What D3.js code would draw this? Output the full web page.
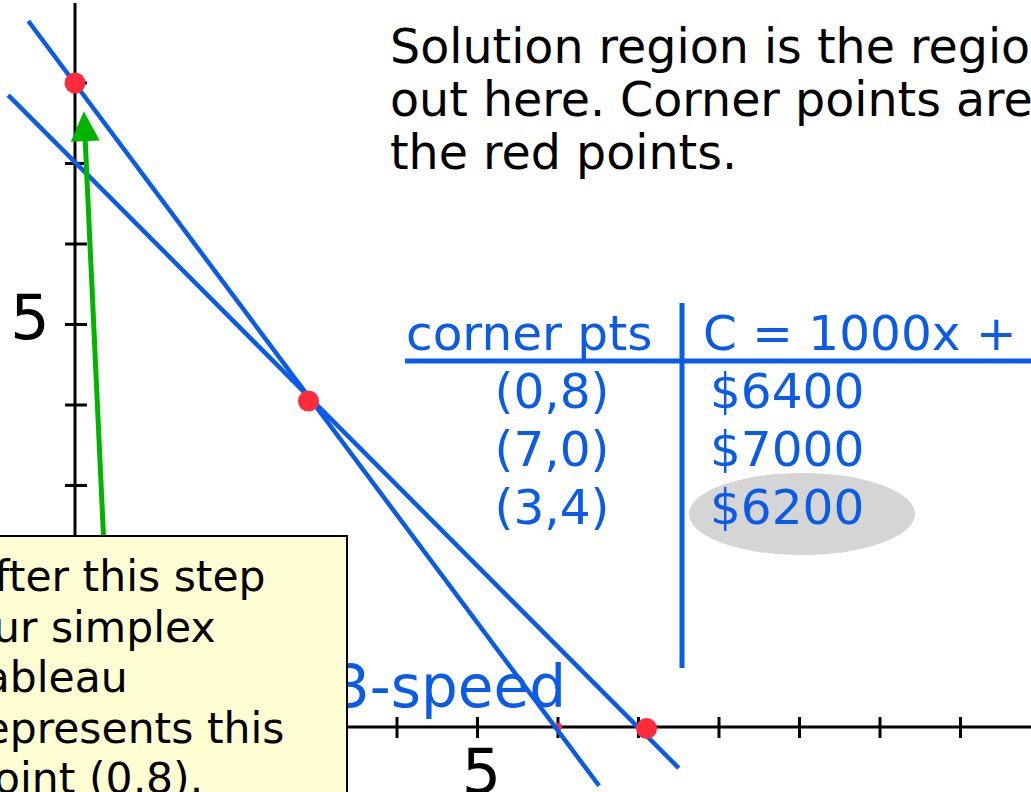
<!DOCTYPE html>
<html>
<head>
<meta charset="utf-8">
<script src="https://cdn.jsdelivr.net/npm/d3@7"></script>
<style>
  body { margin: 0; background: #fff; overflow: hidden; }
  svg { display: block; font-family: "DejaVu Sans", Verdana, sans-serif; }
</style>
</head>
<body>
<div id="chart"></div>
<script>
// Data
const xTicks = [1, 2, 3, 4, 5, 6, 7, 8, 9, 10, 11];
const yTicks = [1, 2, 3, 4, 5, 6, 7, 8];
const tickLabels = [5];

// constraint lines as [x1, y1, x2, y2] in data units
const constraintLines = [
    [-0.58, 8.77, 6.51, -0.73],   // 4x + 3y = 24
    [-0.83, 7.85, 7.50, -0.51]    // x + y = 7
];
// red corner points, as placed in the picture
const cornerPoints = [[0, 8], [2.9, 4.05], [7.1, -0.02]];
const minorPoints = [[6, 0]];
const arrowFrom = [0.38, 1.8];
const arrowTo = [0.11, 7.65];

const tableRows = ['(0,8)', '(7,0)', '(3,4)'];
const tableCosts = ['$6400', '$7000', '$6200'];
const bestRow = 2;

const noteLines = [
    'Solution region is the region',
    'out here. Corner points are',
    'the red points.'
];
const boxLines = [
    'After this step',
    'our simplex',
    'tableau',
    'represents this',
    'point (0,8).'
];

// Dimensions
const dimensions = { width: 1031, height: 792 };
const blue = '#0a5be8';
const green = '#00b400';

const svg = d3.select('#chart')
    .append('svg')
    .attr('width', dimensions.width)
    .attr('height', dimensions.height);

// Scales
const xScale = d3.scaleLinear().domain([0, 12]).range([75, 75 + 12 * 80.5]);
const yScale = d3.scaleLinear().domain([0, 9]).range([727, 727 - 9 * 80.5]);

// Axes
svg.append('line')
    .attr('x1', xScale(0)).attr('x2', xScale(0))
    .attr('y1', 3).attr('y2', dimensions.height)
    .attr('stroke', 'black').attr('stroke-width', 3);
svg.append('line')
    .attr('x1', 0).attr('x2', dimensions.width)
    .attr('y1', yScale(0)).attr('y2', yScale(0))
    .attr('stroke', 'black').attr('stroke-width', 3);

svg.selectAll('.ytick')
    .data(yTicks)
    .join('line')
    .attr('x1', xScale(0) - 10).attr('x2', xScale(0) + 12)
    .attr('y1', d => yScale(d)).attr('y2', d => yScale(d))
    .attr('stroke', 'black').attr('stroke-width', 3);

svg.selectAll('.xtick')
    .data(xTicks)
    .join('line')
    .attr('x1', d => xScale(d)).attr('x2', d => xScale(d))
    .attr('y1', yScale(0) - 10).attr('y2', yScale(0) + 11)
    .attr('stroke', 'black').attr('stroke-width', 3);

svg.selectAll('.ylabel')
    .data(tickLabels)
    .join('text')
    .attr('x', 30)
    .attr('y', d => yScale(d) + 14)
    .attr('text-anchor', 'middle')
    .attr('font-size', 62)
    .text(d => d);

svg.selectAll('.xlabel')
    .data(tickLabels)
    .join('text')
    .attr('x', d => xScale(d) + 4)
    .attr('y', yScale(0) + 66)
    .attr('text-anchor', 'middle')
    .attr('font-size', 62)
    .text(d => d);

// small point under the line
svg.selectAll('.minor')
    .data(minorPoints)
    .join('circle')
    .attr('cx', d => xScale(d[0]))
    .attr('cy', d => yScale(d[1]))
    .attr('r', 4)
    .attr('fill', '#ff2a3a');

// "3-speed" label
svg.append('text')
    .attr('x', 566)
    .attr('y', 707)
    .attr('text-anchor', 'end')
    .attr('font-size', 58)
    .attr('fill', blue)
    .text('3-speed');

// Constraint lines
svg.selectAll('.constraint')
    .data(constraintLines)
    .join('line')
    .attr('x1', d => xScale(d[0])).attr('y1', d => yScale(d[1]))
    .attr('x2', d => xScale(d[2])).attr('y2', d => yScale(d[3]))
    .attr('stroke', blue)
    .attr('stroke-width', 4.5);

// Corner points
svg.selectAll('.corner')
    .data(cornerPoints)
    .join('circle')
    .attr('cx', d => xScale(d[0]))
    .attr('cy', d => yScale(d[1]))
    .attr('r', 10.5)
    .attr('fill', '#ff2a3a');

// Green arrow
const ax1 = xScale(arrowFrom[0]), ay1 = yScale(arrowFrom[1]);
const ax2 = xScale(arrowTo[0]), ay2 = yScale(arrowTo[1]);
const len = Math.hypot(ax2 - ax1, ay2 - ay1);
const ux = (ax2 - ax1) / len, uy = (ay2 - ay1) / len;
const headLen = 30, headHalf = 14.5;
const bx = ax2 - ux * headLen, by = ay2 - uy * headLen;

svg.append('line')
    .attr('x1', ax1).attr('y1', ay1)
    .attr('x2', bx + ux * 2).attr('y2', by + uy * 2)
    .attr('stroke', green)
    .attr('stroke-width', 5);

svg.append('path')
    .attr('d', d3.line()([
        [ax2, ay2],
        [bx - uy * headHalf, by + ux * headHalf],
        [bx + uy * headHalf, by - ux * headHalf]
    ]) + 'Z')
    .attr('fill', green);

// Notes
svg.append('text')
    .attr('font-size', 47.5)
    .selectAll('tspan')
    .data(noteLines)
    .join('tspan')
    .attr('x', 390)
    .attr('y', (d, i) => 63 + i * 53)
    .text(d => d);

// Table
const table = svg.append('g').attr('fill', blue).attr('font-size', 48.5);

table.append('ellipse')
    .attr('cx', 802).attr('cy', 514 - (2 - bestRow) * 58)
    .attr('rx', 113).attr('ry', 41)
    .attr('fill', '#d5d5d5');

table.append('text')
    .attr('x', 406).attr('y', 350)
    .text('corner pts');
table.append('text')
    .attr('x', 703).attr('y', 350)
    .text('C = 1000x + 800y');

table.append('line')
    .attr('x1', 405).attr('x2', dimensions.width)
    .attr('y1', 361).attr('y2', 361)
    .attr('stroke', blue).attr('stroke-width', 5);
table.append('line')
    .attr('x1', 682).attr('x2', 682)
    .attr('y1', 303).attr('y2', 668)
    .attr('stroke', blue).attr('stroke-width', 5);

table.selectAll('.pt')
    .data(tableRows)
    .join('text')
    .attr('x', 552)
    .attr('y', (d, i) => 408 + i * 58)
    .attr('text-anchor', 'middle')
    .text(d => d);

table.selectAll('.cost')
    .data(tableCosts)
    .join('text')
    .attr('x', 710)
    .attr('y', (d, i) => 408 + i * 58)
    .text(d => d);

// Yellow call-out box
const box = svg.append('g');
box.append('rect')
    .attr('x', -10).attr('y', 536)
    .attr('width', 357).attr('height', 300)
    .attr('fill', '#ffffd3')
    .attr('stroke', 'black')
    .attr('stroke-width', 2);

box.append('text')
    .attr('font-size', 42.5)
    .selectAll('tspan')
    .data(boxLines)
    .join('tspan')
    .attr('x', -33)
    .attr('y', (d, i) => 591 + i * 50.5)
    .text(d => d);
</script>
</body>
</html>
